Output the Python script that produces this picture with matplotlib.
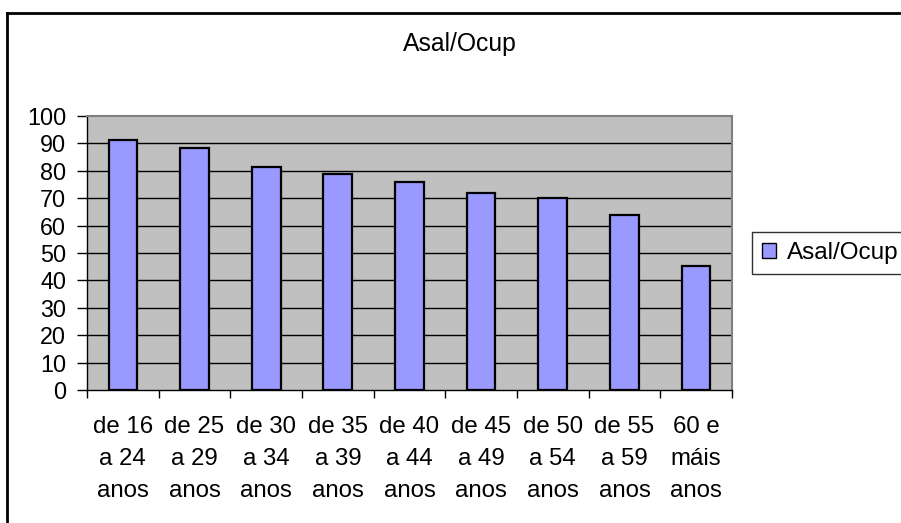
import matplotlib
matplotlib.use("Agg")
import matplotlib.pyplot as plt
from matplotlib.patches import Patch
from matplotlib.lines import Line2D

categories = ["de 16\na 24\nanos", "de 25\na 29\nanos", "de 30\na 34\nanos",
              "de 35\na 39\nanos", "de 40\na 44\nanos", "de 45\na 49\nanos",
              "de 50\na 54\nanos", "de 55\na 59\nanos", "60 e\nmáis\nanos"]
values = [91.2, 88.4, 81.5, 78.8, 76.0, 71.9, 70.0, 63.9, 45.3]
yticks = [0, 10, 20, 30, 40, 50, 60, 70, 80, 90, 100]
series_name = "Asal/Ocup"
title = "Asal/Ocup"

plt.rcParams['font.family'] = ['Liberation Sans', 'DejaVu Sans']

W, H = 901, 523
fig = plt.figure(figsize=(W / 100, H / 100), dpi=100)
fig.patch.set_facecolor("white")

ax = fig.add_axes([87 / W, 1 - 390 / H, (732 - 87) / W, (390 - 116) / H])
ax.set_facecolor("#C0C0C0")

x = list(range(len(categories)))
ax.bar(x, values, width=0.40, color="#9999FF", edgecolor="black", linewidth=1.6, zorder=3)

ax.set_xlim(-0.5, len(categories) - 0.5)
ax.set_ylim(0, 100)
ax.set_yticks(yticks)
ax.set_yticklabels([str(v) for v in yticks])
for v in yticks[1:-1]:
    ax.axhline(v, color="black", linewidth=1, zorder=1)

ax.set_xticks(x)
ax.set_xticklabels(categories, linespacing=1.58)
ax.set_xticks([i - 0.5 for i in range(len(categories) + 1)], minor=True)
ax.tick_params(axis="x", which="major", length=0, pad=19, labelsize=17.3)
ax.tick_params(axis="x", which="minor", length=6, width=1, direction="out", color="black")
ax.tick_params(axis="y", which="major", length=7, width=1, direction="out", pad=8, labelsize=16.8)

for s in ["top", "right"]:
    ax.spines[s].set_color("#808080")
    ax.spines[s].set_linewidth(1.5)
ax.spines["left"].set_color("black")
ax.spines["bottom"].set_color("black")
ax.spines["left"].set_linewidth(1)
ax.spines["bottom"].set_linewidth(1)

fig.text(460 / W, 1 - 44 / H, title, ha="center", va="center", fontsize=17.8)

handle = Patch(facecolor="#9999FF", edgecolor="black", linewidth=1)
leg = fig.legend([handle], [series_name], loc="upper left",
                 bbox_to_anchor=(752 / W, 1 - 232 / H), borderaxespad=0,
                 fontsize=17.5, frameon=True, fancybox=False, handlelength=0.55,
                 handleheight=0.55, handletextpad=0.45, borderpad=0.42)
leg.get_frame().set_edgecolor("black")
leg.get_frame().set_linewidth(1)

fig.add_artist(Line2D([6.5 / W, 1], [1 - 12.5 / H, 1 - 12.5 / H], color="black", linewidth=2))
fig.add_artist(Line2D([6.5 / W, 6.5 / W], [0, 1 - 12.5 / H], color="black", linewidth=2))

fig.savefig("out.png", dpi=100)
